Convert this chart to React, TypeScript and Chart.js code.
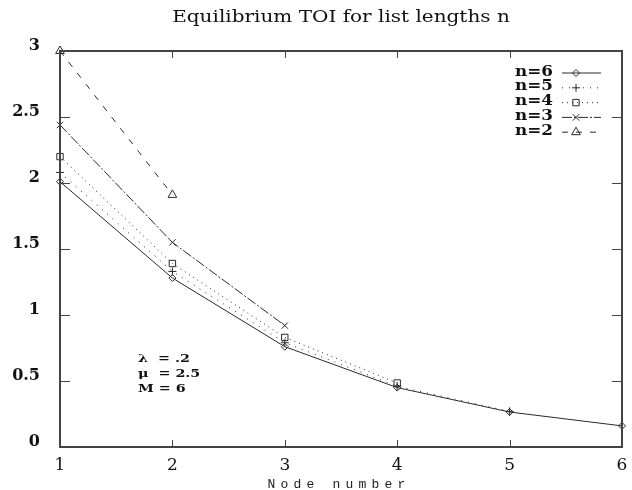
import React, { useEffect, useRef } from 'react';
import { Chart, registerables } from 'chart.js';
import { drawPoint } from 'chart.js/helpers';

Chart.register(...registerables);

// ---- data ----
const nodes = [1, 2, 3, 4, 5, 6];
const n6 = [2.01, 1.28, 0.76, 0.45, 0.265, 0.16];
const n5 = [2.08, 1.33, 0.79, 0.46, 0.27];
const n4 = [2.2, 1.39, 0.83, 0.485];
const n3 = [2.44, 1.55, 0.92];
const n2 = [3.0, 1.91];
const seriesLabels = ['n=6', 'n=5', 'n=4', 'n=3', 'n=2'];
const yTicks = [0, 0.5, 1, 1.5, 2, 2.5, 3];
const yTickLabels = ['0', '0.5', '1', '1.5', '2', '2.5', '3'];
const xTickLabels = ['1', '2', '3', '4', '5', '6'];
const titleText = 'Equilibrium TOI for list lengths n';
const xAxisTitle = 'Node number';
const annotationLines = ['λ  = .2', 'μ  = 2.5', 'M = 6'];

const INK = '#2a2a2a';
const FRAME = '#444444';

const seriesValues = [n6, n5, n4, n3, n2];
const seriesStyle = [
  { dash: [] as number[], point: 'rectRot', r: 3.5 },
  { dash: [1, 6], point: 'cross', r: 4 },
  { dash: [1, 4], point: 'rect', r: 4.5 },
  { dash: [10, 2, 2, 2], point: 'crossRot', r: 4.5 },
  { dash: [6, 8], point: 'triangle', r: 5 },
];

function drawStretched(ctx: CanvasRenderingContext2D, text: string, x: number, y: number, font: string, sx: number, align: CanvasTextAlign) {
  ctx.save();
  ctx.font = font;
  ctx.textAlign = align;
  ctx.textBaseline = 'middle';
  ctx.fillStyle = '#111';
  ctx.translate(x, y);
  ctx.scale(sx, 1);
  ctx.fillText(text, 0, 0);
  ctx.restore();
}

const decorPlugin = {
  id: 'decor',
  afterDraw(chart: any) {
    const ctx: CanvasRenderingContext2D = chart.ctx;
    const a = chart.chartArea;
    const xs = chart.scales.x;
    const ys = chart.scales.y;
    const L = Math.round(a.left);
    const R = Math.round(a.right);
    const T = Math.round(a.top);
    const B = Math.round(a.bottom);

    ctx.save();
    ctx.fillStyle = FRAME;
    ctx.fillRect(L - 1, T - 1, R - L + 2, 2); // top
    ctx.fillRect(L - 1, B - 1, R - L + 2, 2); // bottom
    ctx.fillRect(L - 1, T - 1, 2, B - T + 2); // left
    ctx.fillRect(R - 1, T - 1, 2, B - T + 2); // right
    nodes.forEach((v) => {
      const px = Math.round(xs.getPixelForValue(v));
      ctx.fillRect(px, B - 7, 1, 7);
      ctx.fillRect(px, T, 1, 7);
    });
    yTicks.forEach((v) => {
      const py = Math.round(ys.getPixelForValue(v));
      ctx.fillRect(L, py, 10, 1);
      ctx.fillRect(R - 10, py, 10, 1);
    });
    ctx.restore();

    // title
    drawStretched(ctx, titleText, (a.left + a.right) / 2, 18, '16px "DejaVu Serif"', 1.25, 'center');

    // x axis title (wide monospace)
    ctx.save();
    ctx.font = '13px "Liberation Mono"';
    (ctx as any).letterSpacing = '5.2px';
    ctx.fillStyle = '#222';
    ctx.textAlign = 'center';
    ctx.textBaseline = 'middle';
    ctx.fillText(xAxisTitle, 339, 485);
    ctx.restore();

    // legend
    seriesLabels.forEach((lab, i) => {
      const y = 72 + i * 14.8;
      drawStretched(ctx, lab, 515, y, 'bold 14px "DejaVu Serif"', 1.2, 'left');
      const st = seriesStyle[i];
      ctx.save();
      ctx.strokeStyle = INK;
      ctx.lineWidth = 1;
      ctx.setLineDash(st.dash);
      ctx.beginPath();
      ctx.moveTo(562, y + 1);
      ctx.lineTo(601, y + 1);
      ctx.stroke();
      ctx.setLineDash([]);
      drawPoint(ctx, { pointStyle: st.point as any, radius: st.r, rotation: 0, borderWidth: 1 }, 576, y + 1);
      ctx.restore();
    });

    // annotation
    annotationLines.forEach((t, i) => {
      drawStretched(ctx, t, 138, 359 + i * 15, 'bold 11px "DejaVu Serif"', 1.3, 'left');
    });
  },
};

export default function App() {
  const ref = useRef<HTMLCanvasElement | null>(null);
  useEffect(() => {
    if (!ref.current) return;
    const datasets = seriesValues.map((vals, i) => ({
      label: seriesLabels[i],
      data: vals.map((v, j) => ({ x: nodes[j], y: v })),
      borderColor: INK,
      backgroundColor: 'rgba(0,0,0,0)',
      borderWidth: 1,
      borderDash: seriesStyle[i].dash,
      pointStyle: seriesStyle[i].point as any,
      pointRadius: seriesStyle[i].r,
      pointBorderColor: INK,
      pointBackgroundColor: 'rgba(0,0,0,0)',
      pointBorderWidth: 1,
      tension: 0,
      clip: false as any,
    }));
    const chart = new Chart(ref.current, {
      type: 'line',
      data: { datasets },
      options: {
        animation: false,
        responsive: false,
        maintainAspectRatio: false,
        layout: { padding: { top: 51, right: 10, left: 0, bottom: 0 } },
        plugins: {
          legend: { display: false },
          title: { display: false },
          tooltip: { enabled: false },
        },
        scales: {
          x: {
            type: 'linear',
            min: 1,
            max: 6,
            afterBuildTicks: (s: any) => {
              s.ticks = nodes.map((v) => ({ value: v }));
            },
            afterFit: (s: any) => {
              s.height = 43;
            },
            grid: { display: false },
            border: { display: false },
            ticks: {
              padding: 0,
              color: '#111',
              font: { family: '"DejaVu Serif"', size: 17 },
              callback: (_v: any, idx: number) => xTickLabels[idx],
            },
          },
          y: {
            type: 'linear',
            min: 0,
            max: 3,
            afterBuildTicks: (s: any) => {
              s.ticks = yTicks.map((v) => ({ value: v }));
            },
            afterFit: (s: any) => {
              s.width = 60;
            },
            grid: { display: false },
            border: { display: false },
            ticks: {
              padding: 12,
              color: '#111',
              font: { family: '"DejaVu Serif"', size: 16, weight: 'bold', lineHeight: '10px' } as any,
              callback: (_v: any, idx: number) => [yTickLabels[idx], ''],
            },
          },
        },
      },
      plugins: [decorPlugin],
    });
    return () => chart.destroy();
  }, []);
  return (
    <div style={{ position: 'absolute', left: 0, top: 0, width: 632, height: 490, background: '#fff' }}>
      <canvas ref={ref} width={632} height={490} />
    </div>
  );
}
